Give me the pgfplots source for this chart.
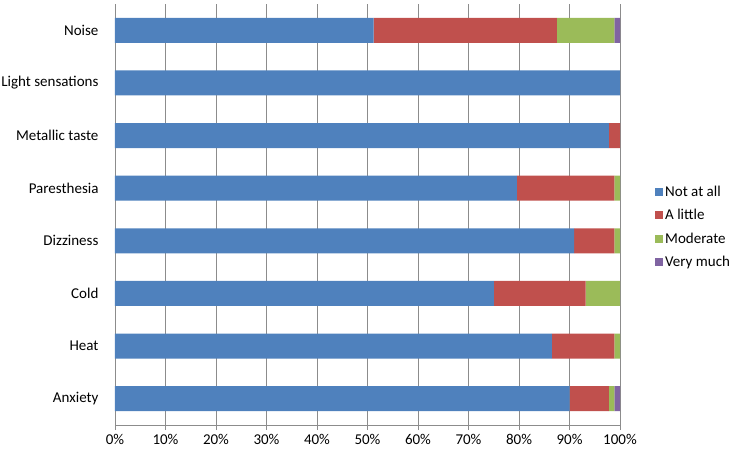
\documentclass[border=0pt]{standalone}
\usepackage{fontspec}
\setmainfont{Carlito}
\usepackage{pgfplots}
\pgfplotsset{compat=1.18}
\usepackage{pgfplotstable}
\definecolor{cBlue}{HTML}{4F81BD}
\definecolor{cRed}{HTML}{C0504D}
\definecolor{cGreen}{HTML}{9BBB59}
\definecolor{cPurple}{HTML}{8064A2}
\definecolor{gridgray}{HTML}{8C8C8C}
% y: 0 = Anxiety ... 7 = Noise
\pgfplotstableread{
y notatall alittle moderate verymuch
0 90.0 7.8 1.1 1.1
1 86.5 12.4 1.1 0.0
2 75.0 18.2 6.8 0.0
3 90.9 8.0 1.1 0.0
4 79.6 19.3 1.1 0.0
5 97.8 2.2 0.0 0.0
6 100.0 0.0 0.0 0.0
7 51.2 36.3 11.4 1.1
}\datatable
\begin{document}
\begin{tikzpicture}
\begin{axis}[
  at={(0pt,0pt)}, anchor=south west,
  scale only axis, width=505pt, height=421pt,
  xbar stacked, bar width=0.475,
  xmin=0, xmax=100, ymin=-0.5, ymax=7.5,
  xtick={0,10,...,100},
  xticklabel={\pgfmathprintnumber{\tick}\%},
  ytick={0,...,7},
  yticklabels={Anxiety,Heat,Cold,Dizziness,Paresthesia,Metallic taste,Light sensations,Noise},
  minor ytick={-0.5,0.5,...,7.5},
  axis x line*=bottom, axis y line*=left,
  axis line style={gridgray},
  xmajorgrids, major grid style={gridgray, line width=0.6pt},
  tick align=outside, major tick length=5pt, minor tick length=5pt,
  x tick style={gridgray}, ytick style={draw=none},
  minor y tick style={gridgray},
  /pgf/number format/assume math mode=true,
  ticklabel style={font=\fontsize{15}{17}\selectfont, black},
  yticklabel style={xshift=-8pt},
  xticklabel style={yshift=-1pt},
  legend style={at={(1,0.470)}, anchor=west, xshift=32pt, draw=none,
    font=\fontsize{15}{17}\selectfont, row sep=7.5pt,
    legend cell align=left},
  legend image code/.code={\fill[#1] (0pt,-4pt) rectangle (8pt,4pt);},
]
\addplot[fill=cBlue, draw=none] table[x=notatall, y=y] {\datatable};
\addplot[fill=cRed, draw=none] table[x=alittle, y=y] {\datatable};
\addplot[fill=cGreen, draw=none] table[x=moderate, y=y] {\datatable};
\addplot[fill=cPurple, draw=none] table[x=verymuch, y=y] {\datatable};
\legend{Not at all, A little, Moderate, Very much}
\end{axis}
\pgfresetboundingbox
\path[use as bounding box] (-115pt,-31pt) rectangle (620pt,425pt);
\end{tikzpicture}
\end{document}
